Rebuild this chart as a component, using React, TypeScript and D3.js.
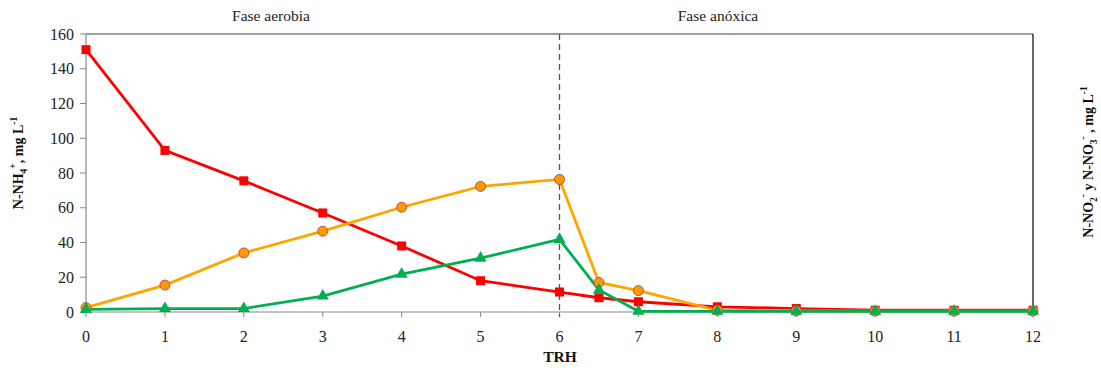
import React from "react";
import * as d3 from "d3";

const trh = [0, 1, 2, 3, 4, 5, 6, 6.5, 7, 8, 9, 10, 11, 12];
const nh4 = [151, 93, 75.5, 57, 38, 18, 11.5, 8.2, 5.9, 3, 2, 1, 1, 1];
const no2 = [2.5, 15.5, 34, 46.5, 60.3, 72.3, 76.3, 17, 12.3, 1, 0.6, 0.5, 0.5, 0.5];
const no3 = [1.5, 2, 2, 9.2, 21.8, 31, 41.8, 12.7, 0.4, 0.4, 0.4, 0.4, 0.4, 0.4];
const xTicks = [0, 1, 2, 3, 4, 5, 6, 7, 8, 9, 10, 11, 12];
const yTicks = [0, 20, 40, 60, 80, 100, 120, 140, 160];
const phaseLabels = ["Fase aerobia", "Fase anóxica"];
const phaseBoundary = 6;

const W = 1101;
const H = 370;
const L = 86, R = 1033, T = 34, B = 312;

export default function App() {
  const x = d3.scaleLinear().domain([0, 12]).range([L, R]);
  const y = d3.scaleLinear().domain([0, 160]).range([B, T]);
  const line = (vals: number[]) =>
    d3.line<number>().x((_, i) => x(trh[i])).y((v) => y(v))(vals) || "";
  const serif = "Liberation Serif, DejaVu Serif, serif";
  const tri = d3.symbol().type(d3.symbolTriangle).size(64)() || "";

  return (
    <svg width={W} height={H} style={{ position: "fixed", left: 0, top: 0, background: "#fff", fontFamily: serif }}>
      <line x1={L} x2={R} y1={T} y2={T} stroke="#444" strokeWidth={1.2} />
      <line x1={R} x2={R} y1={T} y2={B} stroke="#000" strokeWidth={1.2} />
      <line x1={L} x2={L} y1={T} y2={B} stroke="#888" strokeWidth={1.2} />
      <line x1={L} x2={R} y1={B} y2={B} stroke="#888" strokeWidth={1.2} />
      {yTicks.map((t) => (
        <g key={"y" + t}>
          <line x1={L - 6} x2={L} y1={y(t)} y2={y(t)} stroke="#888" />
          <text x={L - 12} y={y(t)} dy="0.35em" textAnchor="end" fontSize={16} fill="#222">{t}</text>
        </g>
      ))}
      {xTicks.map((t) => (
        <g key={"x" + t}>
          <line x1={x(t)} x2={x(t)} y1={B} y2={B + 5} stroke="#888" />
          <text x={x(t)} y={B + 30} textAnchor="middle" fontSize={16} fill="#222">{t}</text>
        </g>
      ))}
      <line x1={x(phaseBoundary)} x2={x(phaseBoundary)} y1={T} y2={B + 5} stroke="#555" strokeWidth={1.3} strokeDasharray="6,4" />
      <text x={271} y={21} textAnchor="middle" fontSize={15.5} fill="#222">{phaseLabels[0]}</text>
      <text x={718} y={21} textAnchor="middle" fontSize={15.5} fill="#222">{phaseLabels[1]}</text>
      <path d={line(nh4)} fill="none" stroke="#FF0000" strokeWidth={2.8} />
      <path d={line(no2)} fill="none" stroke="#FFA500" strokeWidth={2.8} />
      <path d={line(no3)} fill="none" stroke="#00B050" strokeWidth={2.8} />
      {nh4.map((v, i) => (
        <rect key={"r" + i} x={x(trh[i]) - 4.5} y={y(v) - 4.5} width={9} height={9} fill="#FF0000" />
      ))}
      {no2.map((v, i) => (
        <circle key={"c" + i} cx={x(trh[i])} cy={y(v)} r={5} fill="#FF9900" stroke="#C0504D" strokeWidth={1} />
      ))}
      {no3.map((v, i) => (
        <path key={"t" + i} d={tri} transform={`translate(${x(trh[i])},${y(v)})`} fill="#00B050" />
      ))}
      <text x={560} y={362} textAnchor="middle" fontSize={15.5} fontWeight="bold" fill="#111">TRH</text>
      <text transform="translate(23,163) rotate(-90)" textAnchor="middle" fontSize={14} fontWeight="bold" fill="#111">
        N-NH<tspan fontSize={9.5} dy={4}>4</tspan><tspan fontSize={9.5} dy={-11}>+</tspan><tspan dy={7}>, mg L</tspan><tspan fontSize={9.5} dy={-6}>-1</tspan>
      </text>
      <text transform="translate(1093,162) rotate(-90)" textAnchor="middle" fontSize={14} fontWeight="bold" fill="#111">
        N-NO<tspan fontSize={9.5} dy={4}>2</tspan><tspan fontSize={9.5} dy={-11}>-</tspan><tspan dy={7}> y N-NO</tspan><tspan fontSize={9.5} dy={4}>3</tspan><tspan fontSize={9.5} dy={-11}>-</tspan><tspan dy={7}> , mg L</tspan><tspan fontSize={9.5} dy={-6}>-1</tspan>
      </text>
    </svg>
  );
}
